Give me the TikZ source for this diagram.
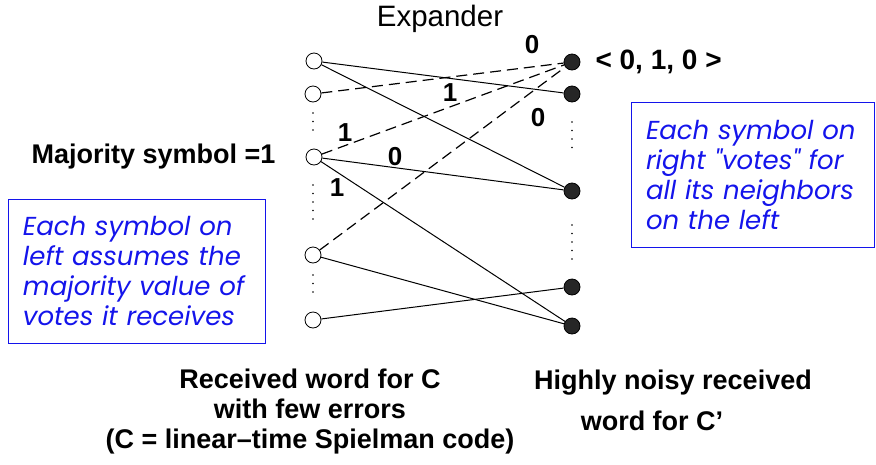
\documentclass[tikz,border=0pt]{standalone}
\usepackage{fontspec}
\setmainfont{Liberation Sans}
\newfontfamily\notefont{Poppins}
\usepackage{tikz}
\usetikzlibrary{shapes.geometric}
\definecolor{noteblue}{RGB}{20,20,235}
\tikzstyle{leftsym} = [circle, draw, thick, fill=white, minimum size=16pt, inner sep=0pt]
\tikzstyle{rightsym} = [circle, draw, thick, fill=black!85, minimum size=16pt, inner sep=0pt]
\tikzstyle{edge} = [line width=1pt]
\tikzstyle{vote} = [line width=1.2pt, dash pattern=on 11pt off 6pt]
\tikzstyle{bit} = [font=\fontsize{26}{26}\selectfont\bfseries]
\tikzstyle{caption} = [font=\fontsize{27}{30}\selectfont\bfseries, align=center]
\tikzstyle{note} = [rectangle, draw=noteblue, thick, text=noteblue, align=left, font=\fontsize{26}{30}\selectfont\notefont\itshape]
\tikzstyle{vdots} = [line width=1.6pt, line cap=round, dash pattern=on 0pt off 8.5pt]

\begin{document}
\begin{tikzpicture}[x=1pt, y=-1pt]
            \useasboundingbox (0,0) rectangle (876,464);

            % left side: received word for C
            \node [leftsym] at (314,61) (l1) {};
            \node [leftsym] at (313,94) (l2) {};
            \node [leftsym] at (314,157) (l3) {};
            \node [leftsym] at (313,255) (l4) {};
            \node [leftsym] at (313,320) (l5) {};

            % right side: noisy word for C'
            \node [rightsym] at (572,62) (r1) {};
            \node [rightsym] at (572,94) (r2) {};
            \node [rightsym] at (572,191) (r3) {};
            \node [rightsym] at (572,287) (r4) {};
            \node [rightsym] at (572,326) (r5) {};

            \draw [vdots] (313,113) -- (313,132);
            \draw [vdots] (313,185) -- (313,220);
            \draw [vdots] (313,275) -- (313,293);
            \draw [vdots] (572,122) -- (572,148);
            \draw [vdots] (572,225) -- (572,262);

            \draw [edge] (l1) -- (r2);
            \draw [edge] (l1) -- (r3);
            \draw [edge] (l3) -- (r3);
            \draw [edge] (l3) -- (r5);
            \draw [edge] (l4) -- (r5);
            \draw [edge] (l5) -- (r4);
            \draw [vote] (l2) -- (r1);
            \draw [vote] (l3) -- (r1);
            \draw [vote] (l4) -- (r1);

            \node [bit] at (532,45) (b1) {0};
            \node [bit] at (450,93) (b2) {1};
            \node [bit] at (538,118) (b3) {0};
            \node [bit] at (345,133) (b4) {1};
            \node [bit] at (395,157) (b5) {0};
            \node [bit] at (337,188) (b6) {1};

            \node [font=\fontsize{29.5}{30}\selectfont] at (440,19) (title) {Expander};
            \node [bit, font=\fontsize{28}{28}\selectfont\bfseries, anchor=west] at (592,62) (word) {< 0, 1, 0 >};
            \node [bit, font=\fontsize{27}{27}\selectfont\bfseries, anchor=east] at (279,157) (maj) {Majority symbol =1};

            \node [note, minimum width=257pt, minimum height=144pt, text width=227pt] at (136.5,271) (leftnote) {Each symbol on\\left assumes the\\majority value of\\votes it receives};
            \node [note, minimum width=243pt, minimum height=145pt, text width=214pt] at (753,174.5) (rightnote) {Each symbol on\\right "votes" for\\all its neighbors\\on the left};

            \node [caption] at (310,412) (capC) {Received word for C\\with few errors\\(C = linear--time Spielman code)};
            \node [caption] at (673,383) (capD1) {Highly noisy received};
            \node [caption] at (652,421) (capD2) {word for C’};
\end{tikzpicture}
\end{document}
